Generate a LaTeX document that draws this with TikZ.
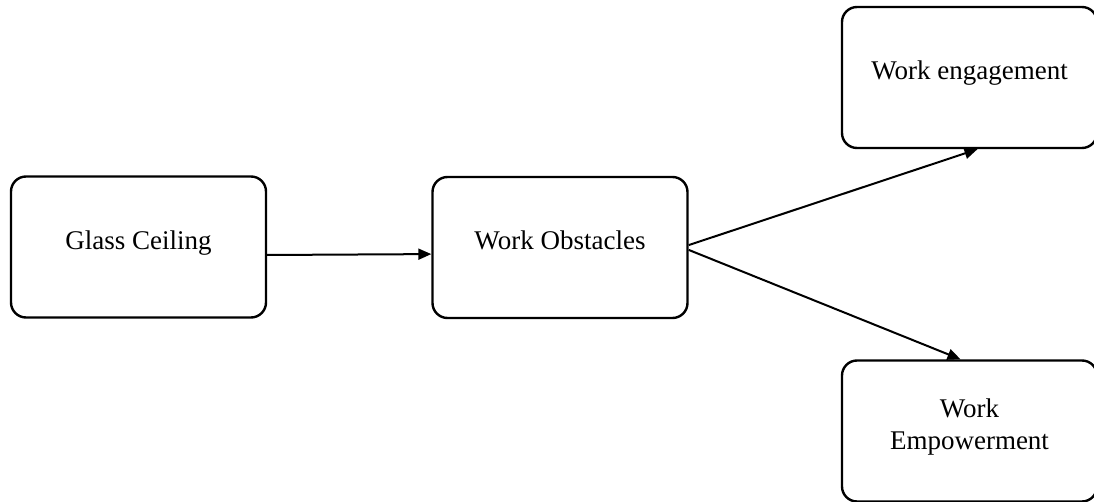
\documentclass[tikz,border=0pt]{standalone}
\usepackage{fontspec}
\setmainfont{Liberation Serif}
\usetikzlibrary{arrows.meta}
\tikzset{
  box/.style={draw, line width=1.2pt, rounded corners=7.5pt, minimum width=127.5pt,
    minimum height=70.5pt, align=center, font=\fontsize{13.5}{16}\selectfont,
    text depth=7pt, inner sep=0pt},
  link/.style={line width=1pt, -{Triangle[length=6.5pt,width=5.5pt]}}
}
\begin{document}
\begin{tikzpicture}[x=0.5pt,y=-0.5pt]
      \useasboundingbox (0,0) rectangle (1094,502);
      \node[box] (gc) at (138.5,247) {Glass Ceiling};
      \node[box] (wo) at (560,247.5) {Work Obstacles};
      \node[box] (we) at (969.5,77.5) {Work engagement};
      \node[box] (wp) at (969.5,431) {Work\\Empowerment};
      \draw[link] ([yshift=-4pt]gc.east) -- ([yshift=-3.3pt]wo.west);
      \draw[link] ([yshift=1.2pt]wo.east) -- ([xshift=4pt]we.south);
      \draw[link] ([yshift=-1.2pt]wo.east) -- ([xshift=-4.5pt]wp.north);
    \end{tikzpicture}
\end{document}
